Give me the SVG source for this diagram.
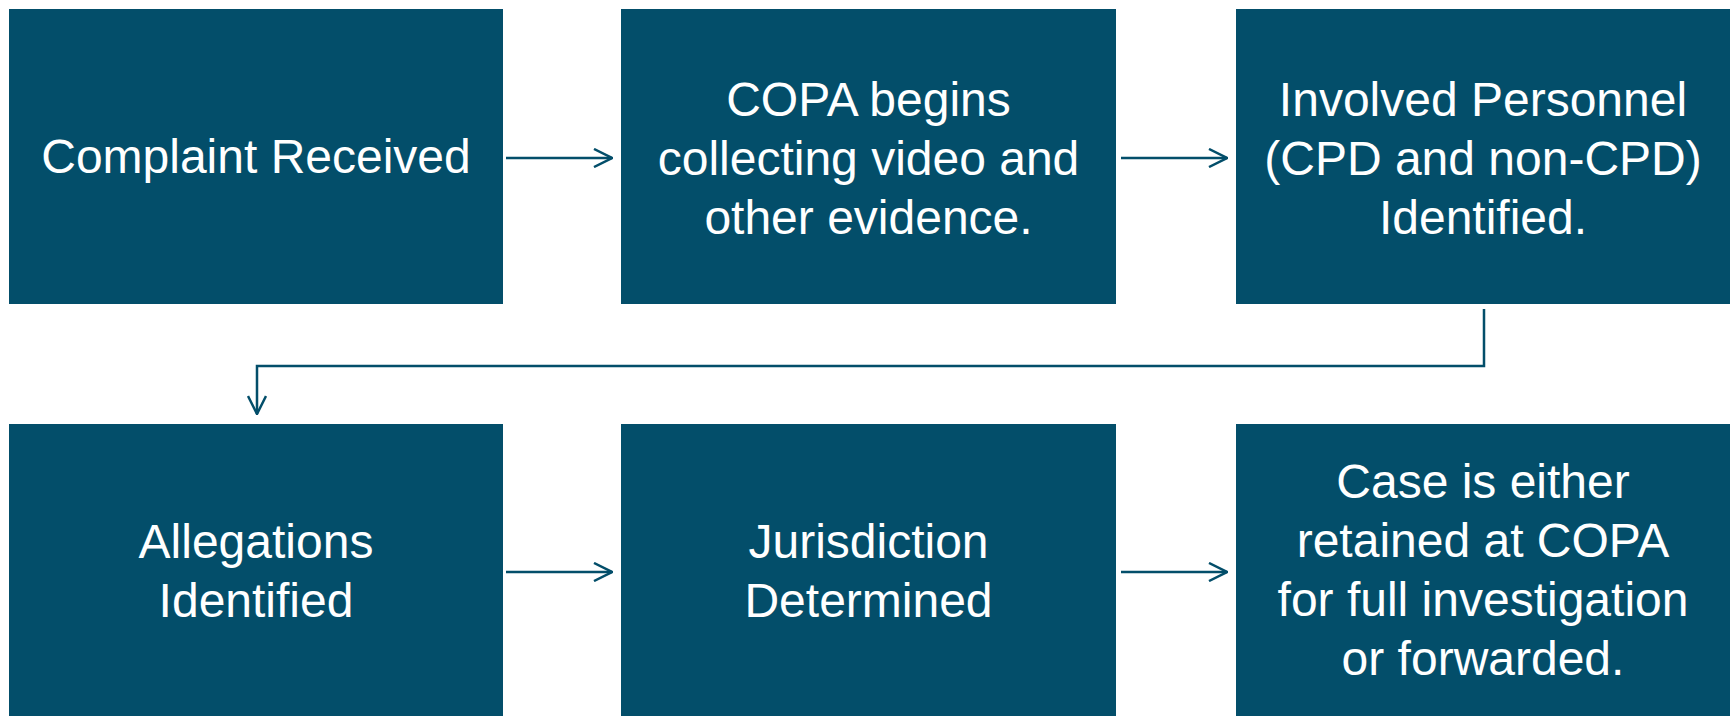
<svg xmlns="http://www.w3.org/2000/svg" width="1733" height="716" viewBox="0 0 1733 716">
<style>
.box{fill:#034e6a;}
.t{font-family:"Liberation Sans",Arial,sans-serif;font-size:48px;fill:#ffffff;text-anchor:middle;}
.c{fill:none;stroke:#034e6a;stroke-width:2.5;}
</style>
<defs>
<marker id="ah" viewBox="0 0 20 20" refX="19" refY="10" markerWidth="20" markerHeight="20" markerUnits="userSpaceOnUse" orient="auto">
<path d="M1,1 L19,10 L1,19" fill="none" stroke="#034e6a" stroke-width="2.5"/>
</marker>
</defs>
<rect width="1733" height="716" fill="#ffffff"/>
<g id="n1"><rect class="box" x="9" y="9" width="494" height="295"/><text class="t" x="256" y="173">Complaint Received</text></g>
<g id="n2"><rect class="box" x="621" y="9" width="495" height="295"/><text class="t" x="868.5" y="116">COPA begins</text><text class="t" x="868.5" y="175">collecting video and</text><text class="t" x="868.5" y="234">other evidence.</text></g>
<g id="n3"><rect class="box" x="1236" y="9" width="494" height="295"/><text class="t" x="1483" y="116">Involved Personnel</text><text class="t" x="1483" y="175">(CPD and non-CPD)</text><text class="t" x="1483" y="234">Identified.</text></g>
<g id="n4"><rect class="box" x="9" y="424" width="494" height="300"/><text class="t" x="256" y="558">Allegations</text><text class="t" x="256" y="617">Identified</text></g>
<g id="n5"><rect class="box" x="621" y="424" width="495" height="300"/><text class="t" x="868.5" y="558">Jurisdiction</text><text class="t" x="868.5" y="617">Determined</text></g>
<g id="n6"><rect class="box" x="1236" y="424" width="494" height="300"/><text class="t" x="1483" y="498">Case is either</text><text class="t" x="1483" y="557">retained at COPA</text><text class="t" x="1483" y="616">for full investigation</text><text class="t" x="1483" y="675">or forwarded.</text></g>
<g id="connectors">
<path class="c" d="M506,158 H612" marker-end="url(#ah)"/>
<path class="c" d="M1121,158 H1227" marker-end="url(#ah)"/>
<path class="c" d="M1484,309 V366 H257 V414" marker-end="url(#ah)"/>
<path class="c" d="M506,572 H612" marker-end="url(#ah)"/>
<path class="c" d="M1121,572 H1227" marker-end="url(#ah)"/>
</g>
</svg>
